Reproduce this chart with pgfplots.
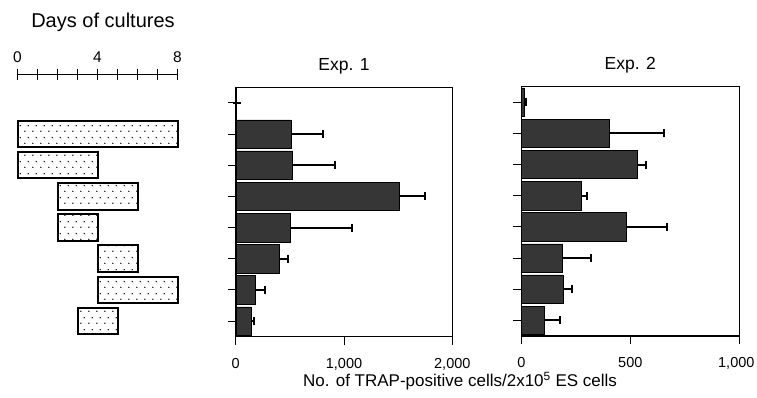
\documentclass[border=0pt]{standalone}
\usepackage{fontspec}
\setmainfont{Liberation Sans}
\usepackage{pgfplots}
\pgfplotsset{compat=1.18}
\usetikzlibrary{patterns.meta}

\tikzdeclarepattern{
  name=sparsedots,
  type=uncolored,
  bottom left={(0pt,0pt)},
  top right={(7.5pt,12pt)},
  tile size={(7.5pt,12pt)},
  code={
    \fill (1.9pt,3pt) circle (0.8pt);
    \fill (5.6pt,9pt) circle (0.8pt);
  }
}

\definecolor{barfill}{HTML}{363636}

\pgfplotsset{
  expbar/.style={
    scale only axis, anchor=south west,
    ymin=0.5, ymax=8.5,
    xbar, bar width=28.5pt,
    ytick={1,...,8}, yticklabels={},
    tick align=outside, xtick pos=lower, ytick pos=left,
    major tick length=8pt,
    tick style={line width=1pt, black},
    axis line style={line width=0.6pt},
    ticklabel style={font=\fontsize{14.5}{16}\selectfont},
    xticklabel style={yshift=-10pt},
    /pgf/number format/assume math mode=true,
    title style={font=\fontsize{17.5}{20}\selectfont, yshift=4pt},
    clip=false,
  },
  bstyle/.style={fill=barfill, draw=black, line width=0.6pt,
    error bars/.cd, x dir=plus, x explicit,
    error bar style={line width=2pt, black},
    error mark options={line width=2pt, mark size=4pt, black, rotate=90}},
}

\begin{document}
\begin{tikzpicture}[x=1pt,y=1pt]
\useasboundingbox (0,0) rectangle (757,398);

% Timeline
\begin{axis}[
  at={(17.5pt,61.3pt)}, anchor=south west, scale only axis,
  width=160pt, height=262.4pt,
  xmin=0, xmax=8, ymin=0.5, ymax=8.915,
  axis x line=top, axis y line=none,
  x axis line style={-, line width=1.5pt},
  xtick={0,4,8}, minor xtick={1,2,3,5,6,7},
  tick align=center, major tick length=11pt, minor tick length=11pt,
  tick style={line width=1.3pt, black},
  xticklabel style={font=\fontsize{15.5}{17}\selectfont, yshift=3pt},
  /pgf/number format/assume math mode=true,
  xbar stacked, bar width=26.5pt,
  clip=false,
]
\addplot[draw=none, fill=none] coordinates {(0,7) (0,6) (2,5) (2,4) (4,3) (4,2) (3,1)};
\addplot[draw=black, line width=2pt, pattern=sparsedots] coordinates {(8,7) (4,6) (4,5) (2,4) (2,3) (4,2) (2,1)};
\end{axis}

% Exp. 1
\begin{axis}[expbar,
  at={(235.7pt,61.3pt)}, width=216.6pt, height=249.4pt,
  xmin=0, xmax=2000,
  xtick={0,1000,2000}, xticklabels={0,{1,000},{2,000}},
  title={Exp. 1},
]
\addplot[bstyle] coordinates {
  (8,8) +- (0,0)
  (509,7) +- (298,0)
  (525,6) +- (395,0)
  (1506,5) +- (246,0)
  (503,4) +- (574,0)
  (402,3) +- (83,0)
  (181,2) +- (89,0)
  (141,1) +- (31,0)
};
\draw[line width=1.6pt] (rel axis cs:0,1) -- (rel axis cs:0,0) -- (rel axis cs:1,0);
\end{axis}

% Exp. 2
\begin{axis}[expbar,
  at={(521.3pt,62pt)}, width=218pt, height=249.4pt,
  xmin=0, xmax=1000,
  xtick={0,500,1000}, xticklabels={0,500,{1,000\hspace*{6pt}}},
  title={Exp. 2},
]
\addplot[bstyle] coordinates {
  (15,8) +- (5,0)
  (405,7) +- (251,0)
  (531,6) +- (42,0)
  (275,5) +- (28,0)
  (482,4) +- (188,0)
  (188,3) +- (133,0)
  (191,2) +- (40,0)
  (104,1) +- (72,0)
};
\draw[line width=1.6pt] (rel axis cs:0,1) -- (rel axis cs:0,0) -- (rel axis cs:1,0);
\end{axis}

\node[font=\fontsize{20}{22}\selectfont] at (103,376) {Days of cultures};
\node[font=\fontsize{17}{19}\selectfont] at (460,17) {No. of TRAP-positive cells/2x10\textsuperscript{5} ES cells};
\end{tikzpicture}
\end{document}
